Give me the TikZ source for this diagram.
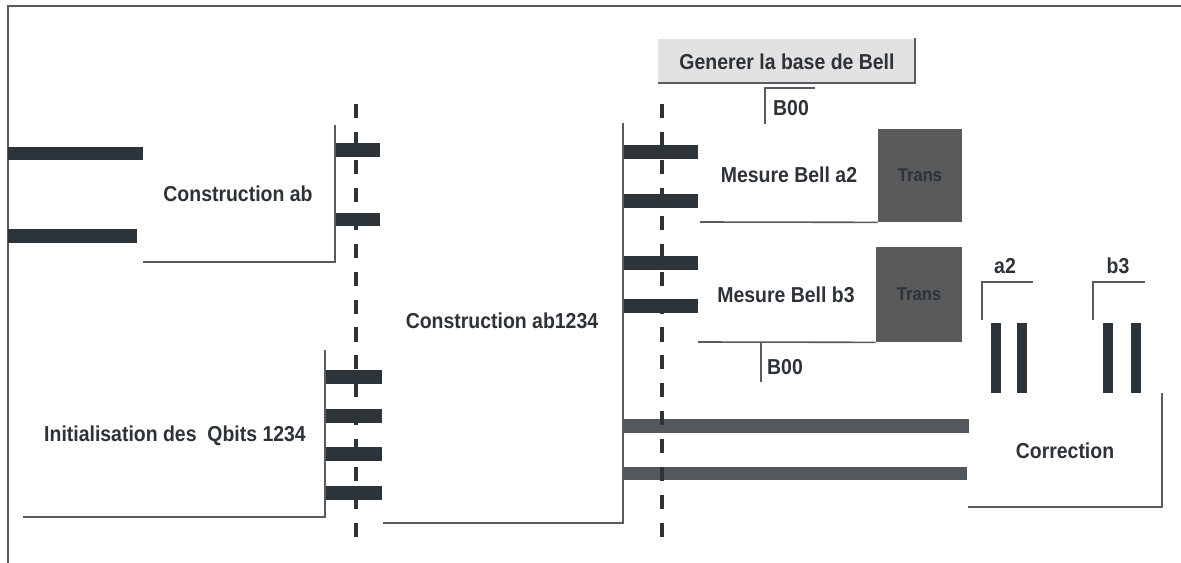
\documentclass[tikz,border=0pt]{standalone}
\usepackage{fontspec}
\setmainfont{Liberation Sans}[FakeStretch=0.9]
\definecolor{inkgray}{RGB}{45,50,56}
\definecolor{barcol}{RGB}{44,51,57}
\definecolor{longbar}{RGB}{82,88,92}
\definecolor{transcol}{RGB}{88,90,92}
\definecolor{linecol}{RGB}{88,91,95}
\definecolor{genfill}{RGB}{226,226,226}

\begin{document}
\begin{tikzpicture}[
        x=0.02cm, y=-0.02cm,
        label/.style={font=\fontsize{12.3}{14}\selectfont\bfseries, text=inkgray, inner sep=0pt},
        transbox/.style={fill=transcol, inner sep=0pt, font=\fontsize{10.5}{12}\selectfont\bfseries, text=barcol},
        qbar/.style={fill=barcol},
        wire/.style={fill=longbar},
        frame/.style={draw=linecol, line width=0.9pt},
        barrier/.style={draw=barcol, line width=2.4pt, dash pattern=on 8pt off 7.9pt}
    ]
        \useasboundingbox (0,0) rectangle (1181,563);
        \draw [frame] (8,563) -- (8,6) -- (1181,6);

        % Construction ab
        \fill [qbar] (8,147) rectangle (143,160);
        \fill [qbar] (8,229) rectangle (137,243);
        \draw [frame] (143,262) -- (335,262) -- (335,125);
        \node (cab) [label] at (238,194) {Construction ab};
        \fill [qbar] (336,143) rectangle (380,157);
        \fill [qbar] (336,213) rectangle (380,226);

        % Initialisation
        \draw [frame] (23,517) -- (325,517) -- (325,350);
        \node (init) [label] at (175,436) {Initialisation des\ \ Qbits 1234};
        \foreach \y in {370,409,447,486}
            \fill [qbar] (326,\y) rectangle (382,\y+14);

        % Construction ab1234
        \draw [frame] (383,523) -- (623,523) -- (623,123);
        \node (cab1234) [label] at (502,321) {Construction ab1234};
        \foreach \y in {145,194,256,299}
            \fill [qbar] (624,\y) rectangle (698,\y+14);
        \fill [wire] (624,419) rectangle (969,433);
        \fill [wire] (624,467) rectangle (967,480);

        % base de Bell
        \fill [genfill] (658,39) rectangle (915,83);
        \draw [frame] (658,83) -- (915,83) -- (915,38);
        \node (gen) [label] at (787,62) {Generer la base de Bell};
        \draw [frame] (815,88) -- (765,88) -- (765,124);
        \node (b00a) [label] at (791,108) {B00};

        % Mesure Bell
        \node (transa) [transbox, minimum width=1.68cm, minimum height=1.86cm] at (920,175.5) {Trans};
        \node (transb) [transbox, minimum width=1.72cm, minimum height=1.9cm] at (919,294.5) {Trans};
        \draw [frame] (700,222) -- (transa.south west);
        \draw [frame] (698,342) -- (transb.south west);
        \node (mba2) [label] at (789,175) {Mesure Bell a2};
        \node (mbb3) [label] at (786,295) {Mesure Bell b3};
        \draw [frame] (761,343) -- (761,382);
        \node (b00b) [label] at (785,367) {B00};

        % Correction
        \draw [frame] (1033,282) -- (982,282) -- (982,320);
        \draw [frame] (1145,282) -- (1093,282) -- (1093,320);
        \node (la2) [label] at (1005,266) {a2};
        \node (lb3) [label] at (1118,266) {b3};
        \foreach \x in {991,1017,1103,1131}
            \fill [qbar] (\x,323) rectangle (\x+10,393);
        \draw [frame] (968,507) -- (1162,507) -- (1162,393);
        \node (corr) [label] at (1065,451) {Correction};

        \draw [barrier] (356,104) -- (356,545);
        \draw [barrier] (662,104) -- (662,545);
    \end{tikzpicture}
\end{document}
